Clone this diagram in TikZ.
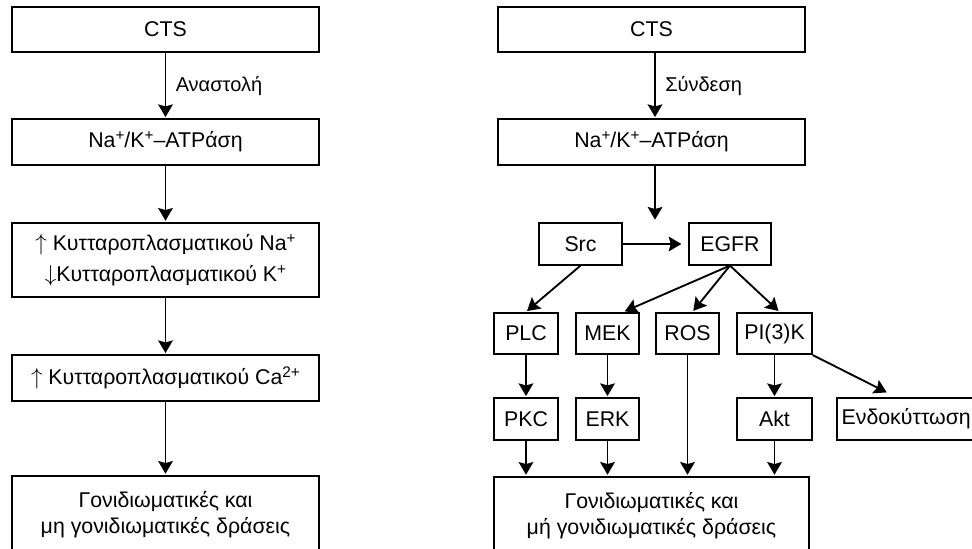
\documentclass[tikz,border=0pt]{standalone}
\usepackage{fontspec}
\setmainfont{Liberation Sans}
\usetikzlibrary{arrows.meta,calc}
\newcommand{\ionch}[1]{\raisebox{0.62ex}{\fontsize{11.5}{12}\selectfont #1}}

\begin{document}
\begin{tikzpicture}[x=0.75pt,y=-0.75pt,line width=1.4pt,->,
  >={Stealth[length=9.5pt,width=11pt,inset=1.5pt]},shorten >=1pt,
  box/.style={draw,rectangle,inner sep=2pt,align=center,
    font=\fontsize{16}{19.5}\selectfont,minimum height=31pt},
  tag/.style={font=\fontsize{15}{17}\selectfont,inner sep=7pt}]
  \useasboundingbox (0,0) rectangle (972,549);
  \clip (0,0) rectangle (972,549);
  % left: inhibition of the pump
  \node [box,minimum width=230pt,minimum height=34pt] (cts1) at (165.5,29.5) {CTS};
  \node [box,minimum width=230pt,minimum height=34pt] (atp1) at (165.5,142) {Na\ionch{+}/K\ionch{+}–ATPάση};
  \node [box,minimum width=230pt,minimum height=55.5pt] (ion) at (165.5,260) {$\uparrow$ Κυτταροπλασματικού Na\ionch{+}\\[4pt]$\downarrow$Κυτταροπλασματικού K\ionch{+}};
  \node [box,minimum width=230pt,minimum height=34pt] (ca) at (165.5,378) {$\uparrow$ Κυτταροπλασματικού Ca\ionch{2+}};
  \node [box,minimum width=230pt,minimum height=58.5pt] (gen1) at (165.5,515) {Γονιδιωματικές και\\μη γονιδιωματικές δράσεις};
  \path (cts1) edge node [right,tag] {Αναστολή} (atp1);
  \path (atp1) edge (ion);
  \path (ion) edge (ca);
  \path (ca) edge (gen1);
  % right: signalling through the pump
  \node [box,minimum width=230pt,minimum height=34pt] (cts2) at (651.5,29.5) {CTS};
  \node [box,minimum width=230pt,minimum height=34pt] (atp2) at (651.5,142) {Na\ionch{+}/K\ionch{+}–ATPάση};
  \node [box,minimum width=62pt] (src) at (580.5,244) {Src};
  \node [box,minimum width=61.5pt] (egfr) at (730,244) {EGFR};
  \node [box,minimum width=48pt] (plc) at (526,333.5) {PLC};
  \node [box,minimum width=47pt] (mek) at (607.5,333.5) {MEK};
  \node [box,minimum width=47pt] (ros) at (687.5,333.5) {ROS};
  \node [box,minimum width=56pt] (pik) at (774.5,333.5) {PI(3)K};
  \node [box,minimum width=48pt] (pkc) at (526,419) {PKC};
  \node [box,minimum width=47pt] (erk) at (607.5,419) {ERK};
  \node [box,minimum width=56pt] (akt) at (774.5,419) {Akt};
  \node [box,anchor=west,align=left,inner xsep=3.5pt,text width=140pt] (endo) at (836,419) {Ενδοκύττωση};
  \node [box,minimum width=236pt,minimum height=58.5pt] (gen2) at (651.5,516) {Γονιδιωματικές και\\μή γονιδιωματικές δράσεις};
  \coordinate (fork) at (655,221);
  \coordinate (endotip) at (888,393);
  \path (cts2.south -| fork) edge node [right,tag] {Σύνδεση} (atp2.north -| fork);
  \draw (atp2.south -| fork) -- (fork);
  \draw [shorten >=5pt] (src) -- (egfr);
  \draw (src.south) -- (plc.north);
  \draw (egfr.south) -- ($(mek.north)+(16,0)$);
  \draw (egfr.south) -- ($(ros.north)+(5,0)$);
  \draw (egfr.south) -- ($(pik.north)+(5,0)$);
  \draw (plc) -- (pkc);
  \draw (mek) -- (erk);
  \draw (pik) -- (akt);
  \draw (pik.south east) -- (endotip);
  \draw (pkc.south) -- (pkc.south |- gen2.north);
  \draw (erk.south) -- (erk.south |- gen2.north);
  \draw (ros.south) -- (ros.south |- gen2.north);
  \draw (akt.south) -- (akt.south |- gen2.north);
\end{tikzpicture}
\end{document}
